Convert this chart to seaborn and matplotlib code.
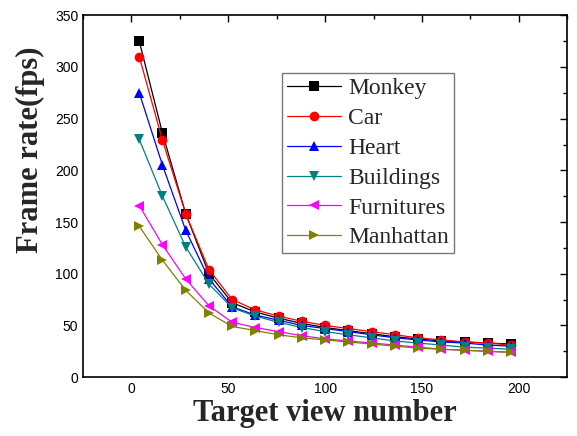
import numpy as np
import pandas as pd
import matplotlib
matplotlib.use("Agg")
import matplotlib.pyplot as plt
import seaborn as sns
from matplotlib.ticker import MultipleLocator

views = [4, 16, 28, 40, 52, 64, 76, 88, 100, 112, 124, 136, 148, 160, 172, 184, 196]
monkey = [325, 236, 158, 100, 72, 63, 57, 52, 48, 45, 42, 39, 37, 35, 34, 33, 32]
car = [310, 229, 158, 104, 75, 65, 59, 54, 50, 47, 44, 41, 38, 36, 34, 33, 31]
heart = [275, 205, 142, 95, 68, 60, 55, 50, 47, 44, 41, 38, 36, 34, 33, 31, 30]
buildings = [230, 175, 126, 90, 67, 59, 53, 48, 44, 41, 38, 35, 33, 31, 29, 28, 27]
furnitures = [166, 128, 95, 69, 53, 48, 44, 40, 37, 35, 33, 31, 29, 27, 26, 25, 24]
manhattan = [146, 113, 84, 62, 49, 45, 41, 38, 36, 34, 32, 30, 28, 27, 26, 25, 24]

names = ["Monkey", "Car", "Heart", "Buildings", "Furnitures", "Manhattan"]
series = [monkey, car, heart, buildings, furnitures, manhattan]
colors = ["#000000", "#ff0000", "#0000ff", "#008080", "#ff00ff", "#808000"]
markers = ["s", "o", "^", "v", "<", ">"]

rows = []
for n, s in zip(names, series):
    for x, y in zip(views, s):
        rows.append({"view": x, "fps": y, "model": n})
df = pd.DataFrame(rows)

sns.set_theme(style="white")
plt.rcParams["font.family"] = ["Liberation Sans", "DejaVu Sans"]

fig = plt.figure(figsize=(5.77, 4.36), dpi=100)
ax = fig.add_axes([0.144, 0.135, 0.839, 0.83])

sns.lineplot(data=df, x="view", y="fps", hue="model", style="model",
             hue_order=names, style_order=names,
             palette=dict(zip(names, colors)),
             markers=dict(zip(names, markers)), dashes=False,
             markersize=7, linewidth=0.9, markeredgewidth=0,
             ax=ax)

ax.set_xlim(-25, 225)
ax.set_ylim(0, 350)
ax.xaxis.set_major_locator(MultipleLocator(50))
ax.xaxis.set_minor_locator(MultipleLocator(25))
ax.yaxis.set_major_locator(MultipleLocator(50))
ax.yaxis.set_minor_locator(MultipleLocator(25))
ax.tick_params(which="both", direction="in", top=True, right=True,
               labelsize=10, colors="black", labelcolor="black")
ax.tick_params(which="major", length=5, width=1.0)
ax.tick_params(which="minor", length=3, width=1.0)
ax.tick_params(axis="x", labeltop=False)
ax.tick_params(axis="y", labelright=False)
for sp in ax.spines.values():
    sp.set_color("black")
    sp.set_linewidth(1.2)

serif = ["Liberation Serif", "DejaVu Serif"]
ax.set_xlabel("Target view number", fontsize=22, fontweight="bold",
              family=serif, labelpad=2)
ax.set_ylabel("Frame rate(fps)", fontsize=22, fontweight="bold",
              family=serif)
ax.yaxis.set_label_coords(-0.078, 0.627)

leg = ax.legend(loc="upper left", bbox_to_anchor=(0.411, 0.84),
                borderaxespad=0,
                prop={"family": serif, "size": 17},
                frameon=True, fancybox=False, edgecolor="#555555",
                handlelength=2.3, handletextpad=0.3, borderpad=0.2,
                labelspacing=0.35)
leg.get_frame().set_linewidth(1.0)
for h in leg.legend_handles:
    h.set_markersize(7)

fig.savefig("out.png", dpi=100)
